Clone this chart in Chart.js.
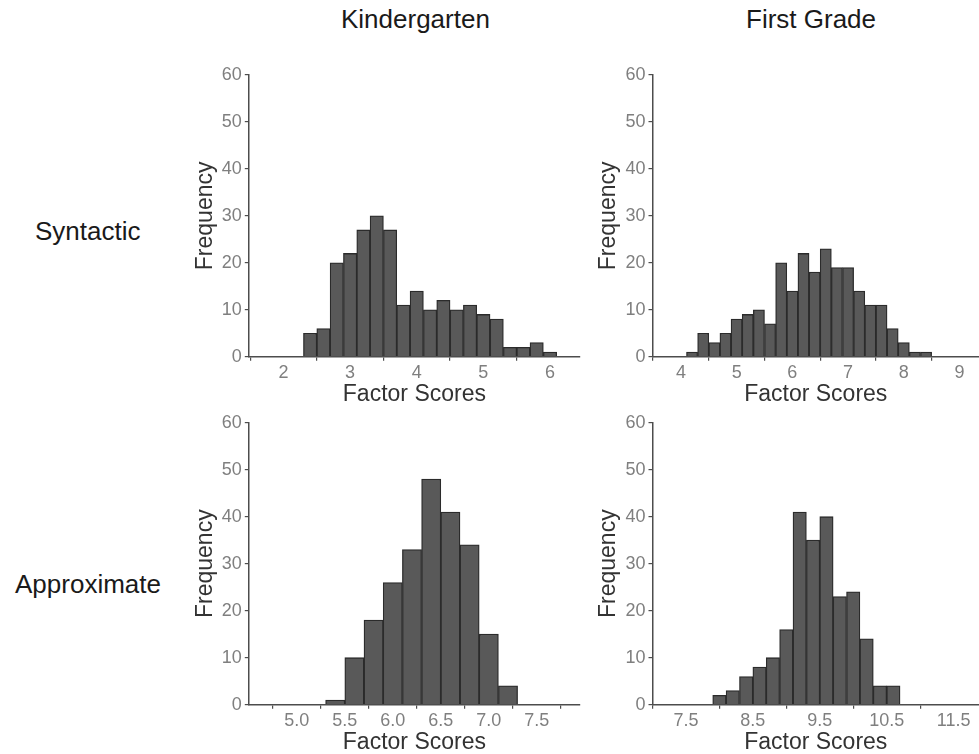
<!DOCTYPE html>
<html>
<head>
<meta charset="utf-8">
<script src="https://cdn.jsdelivr.net/npm/chart.js@4.4.1/dist/chart.umd.min.js"></script>
<style>
  html, body { margin: 0; padding: 0; background: #fff; overflow: hidden; }
  body { width: 979px; height: 754px; position: relative; font-family: "Liberation Sans", Arial, sans-serif; }
  canvas { position: absolute; }
  .lbl { position: absolute; font-size: 26px; line-height: 26px; color: #1a1a1a; white-space: nowrap; }
</style>
</head>
<body>
<div class="lbl" id="colK" style="top:6px;">Kindergarten</div>
<div class="lbl" id="col1" style="top:6px;">First Grade</div>
<div class="lbl" id="rowS" style="top:218px;">Syntactic</div>
<div class="lbl" id="rowA" style="top:571px;">Approximate</div>

<canvas id="kSyn" width="400" height="350" style="left:190px; top:60px;"></canvas>
<canvas id="fSyn" width="386" height="350" style="left:593px; top:60px;"></canvas>
<canvas id="kApp" width="400" height="350" style="left:190px; top:408px;"></canvas>
<canvas id="fApp" width="386" height="350" style="left:593px; top:408px;"></canvas>

<script>
// bin centres (width 0.2) and counts
var kSynBins = [2.4, 2.6, 2.8, 3.0, 3.2, 3.4, 3.6, 3.8, 4.0, 4.2, 4.4, 4.6, 4.8, 5.0, 5.2, 5.4, 5.6, 5.8, 6.0];
var kSynCounts = [5, 6, 20, 22, 27, 30, 27, 11, 14, 10, 12, 10, 11, 9, 8, 2, 2, 3, 1];

var fSynBins = [4.2, 4.4, 4.6, 4.8, 5.0, 5.2, 5.4, 5.6, 5.8, 6.0, 6.2, 6.4, 6.6, 6.8, 7.0, 7.2, 7.4, 7.6, 7.8, 8.0, 8.2, 8.4];
var fSynCounts = [1, 5, 3, 5, 8, 9, 10, 7, 20, 14, 22, 18, 23, 19, 19, 14, 11, 11, 6, 3, 1, 1];

var kAppBins = [5.4, 5.6, 5.8, 6.0, 6.2, 6.4, 6.6, 6.8, 7.0, 7.2];
var kAppCounts = [1, 10, 18, 26, 33, 48, 41, 34, 15, 4];

var fAppBins = [8.0, 8.2, 8.4, 8.6, 8.8, 9.0, 9.2, 9.4, 9.6, 9.8, 10.0, 10.2, 10.4, 10.6];
var fAppCounts = [2, 3, 6, 8, 10, 16, 41, 35, 40, 23, 24, 14, 4, 4];

// tick labels
var kSynTicks = [2, 3, 4, 5, 6];
var fSynTicks = [4, 5, 6, 7, 8, 9];
var kAppTicks = [5.0, 5.5, 6.0, 6.5, 7.0, 7.5];
var fAppTicks = [7.5, 8.5, 9.5, 10.5, 11.5];
var freqTicks = [0, 10, 20, 30, 40, 50, 60];

var FONT = '"Liberation Sans", Arial, sans-serif';
var AXIS = '#4d4d4d';

function makeHist(id, bins, counts, ticks, xmin, xmax, decimals, yWidth, padTop, padRight) {
  var ctx = document.getElementById(id).getContext('2d');
  var pts = [];
  for (var i = 0; i < bins.length; ++i) pts.push({ x: bins[i], y: counts[i] });

  return new Chart(ctx, {
    type: 'bar',
    data: {
      datasets: [{
        data: pts,
        backgroundColor: '#595959',
        borderColor: '#2b2b2b',
        borderWidth: 1.3,
        barPercentage: 1,
        categoryPercentage: 1
      }]
    },
    options: {
      responsive: false,
      animation: false,
      layout: { padding: { left: 0, top: padTop, right: padRight, bottom: 0 } },
      plugins: { legend: { display: false }, tooltip: { enabled: false } },
      scales: {
        x: {
          type: 'linear',
          offset: false,
          min: xmin,
          max: xmax,
          afterBuildTicks: function (s) { s.ticks = ticks.map(function (v) { return { value: v }; }); },
          afterFit: function (s) { s.height = 53.3; },
          grid: { drawOnChartArea: false, drawTicks: true, tickLength: 4, color: AXIS, lineWidth: 1.2 },
          border: { display: true, color: AXIS, width: 1.5 },
          ticks: {
            color: '#7f7f7f', padding: 2, maxRotation: 0,
            font: { family: FONT, size: 18 },
            callback: function (v) { return Number(v).toFixed(decimals); }
          },
          title: {
            display: true, text: 'Factor Scores', color: '#333',
            font: { family: FONT, size: 23, lineHeight: 1 },
            padding: { top: 0, bottom: 4 }
          }
        },
        y: {
          min: 0,
          max: 60,
          afterBuildTicks: function (s) { s.ticks = freqTicks.map(function (v) { return { value: v }; }); },
          afterFit: function (s) { s.width = yWidth; },
          grid: { drawOnChartArea: false, drawTicks: true, tickLength: 4, color: AXIS, lineWidth: 1.2 },
          border: { display: true, color: AXIS, width: 1.5 },
          ticks: { color: '#7f7f7f', padding: 3, font: { family: FONT, size: 18 } },
          title: {
            display: true, text: 'Frequency', color: '#333',
            font: { family: FONT, size: 23, lineHeight: 1 },
            padding: { top: 4, bottom: 0 }
          }
        }
      }
    }
  });
}

// centre the column / row labels on their points
function centre(id, cx) {
  var el = document.getElementById(id);
  el.style.left = (cx - el.offsetWidth / 2) + 'px';
}
centre('colK', 415.5);
centre('col1', 811);
centre('rowS', 88);
centre('rowA', 88);

makeHist('kSyn', kSynBins, kSynCounts, kSynTicks, 1.48, 6.45, 0, 58.8, 15, 10);
makeHist('fSyn', fSynBins, fSynCounts, fSynTicks, 3.49, 9.35, 0, 59.5, 15, 0);
makeHist('kApp', kAppBins, kAppCounts, kAppTicks, 4.5, 7.95, 1, 58.8, 14.7, 10);
makeHist('fApp', fAppBins, fAppCounts, fAppTicks, 7.0, 11.88, 1, 59.5, 14.7, 0);
</script>
</body>
</html>
